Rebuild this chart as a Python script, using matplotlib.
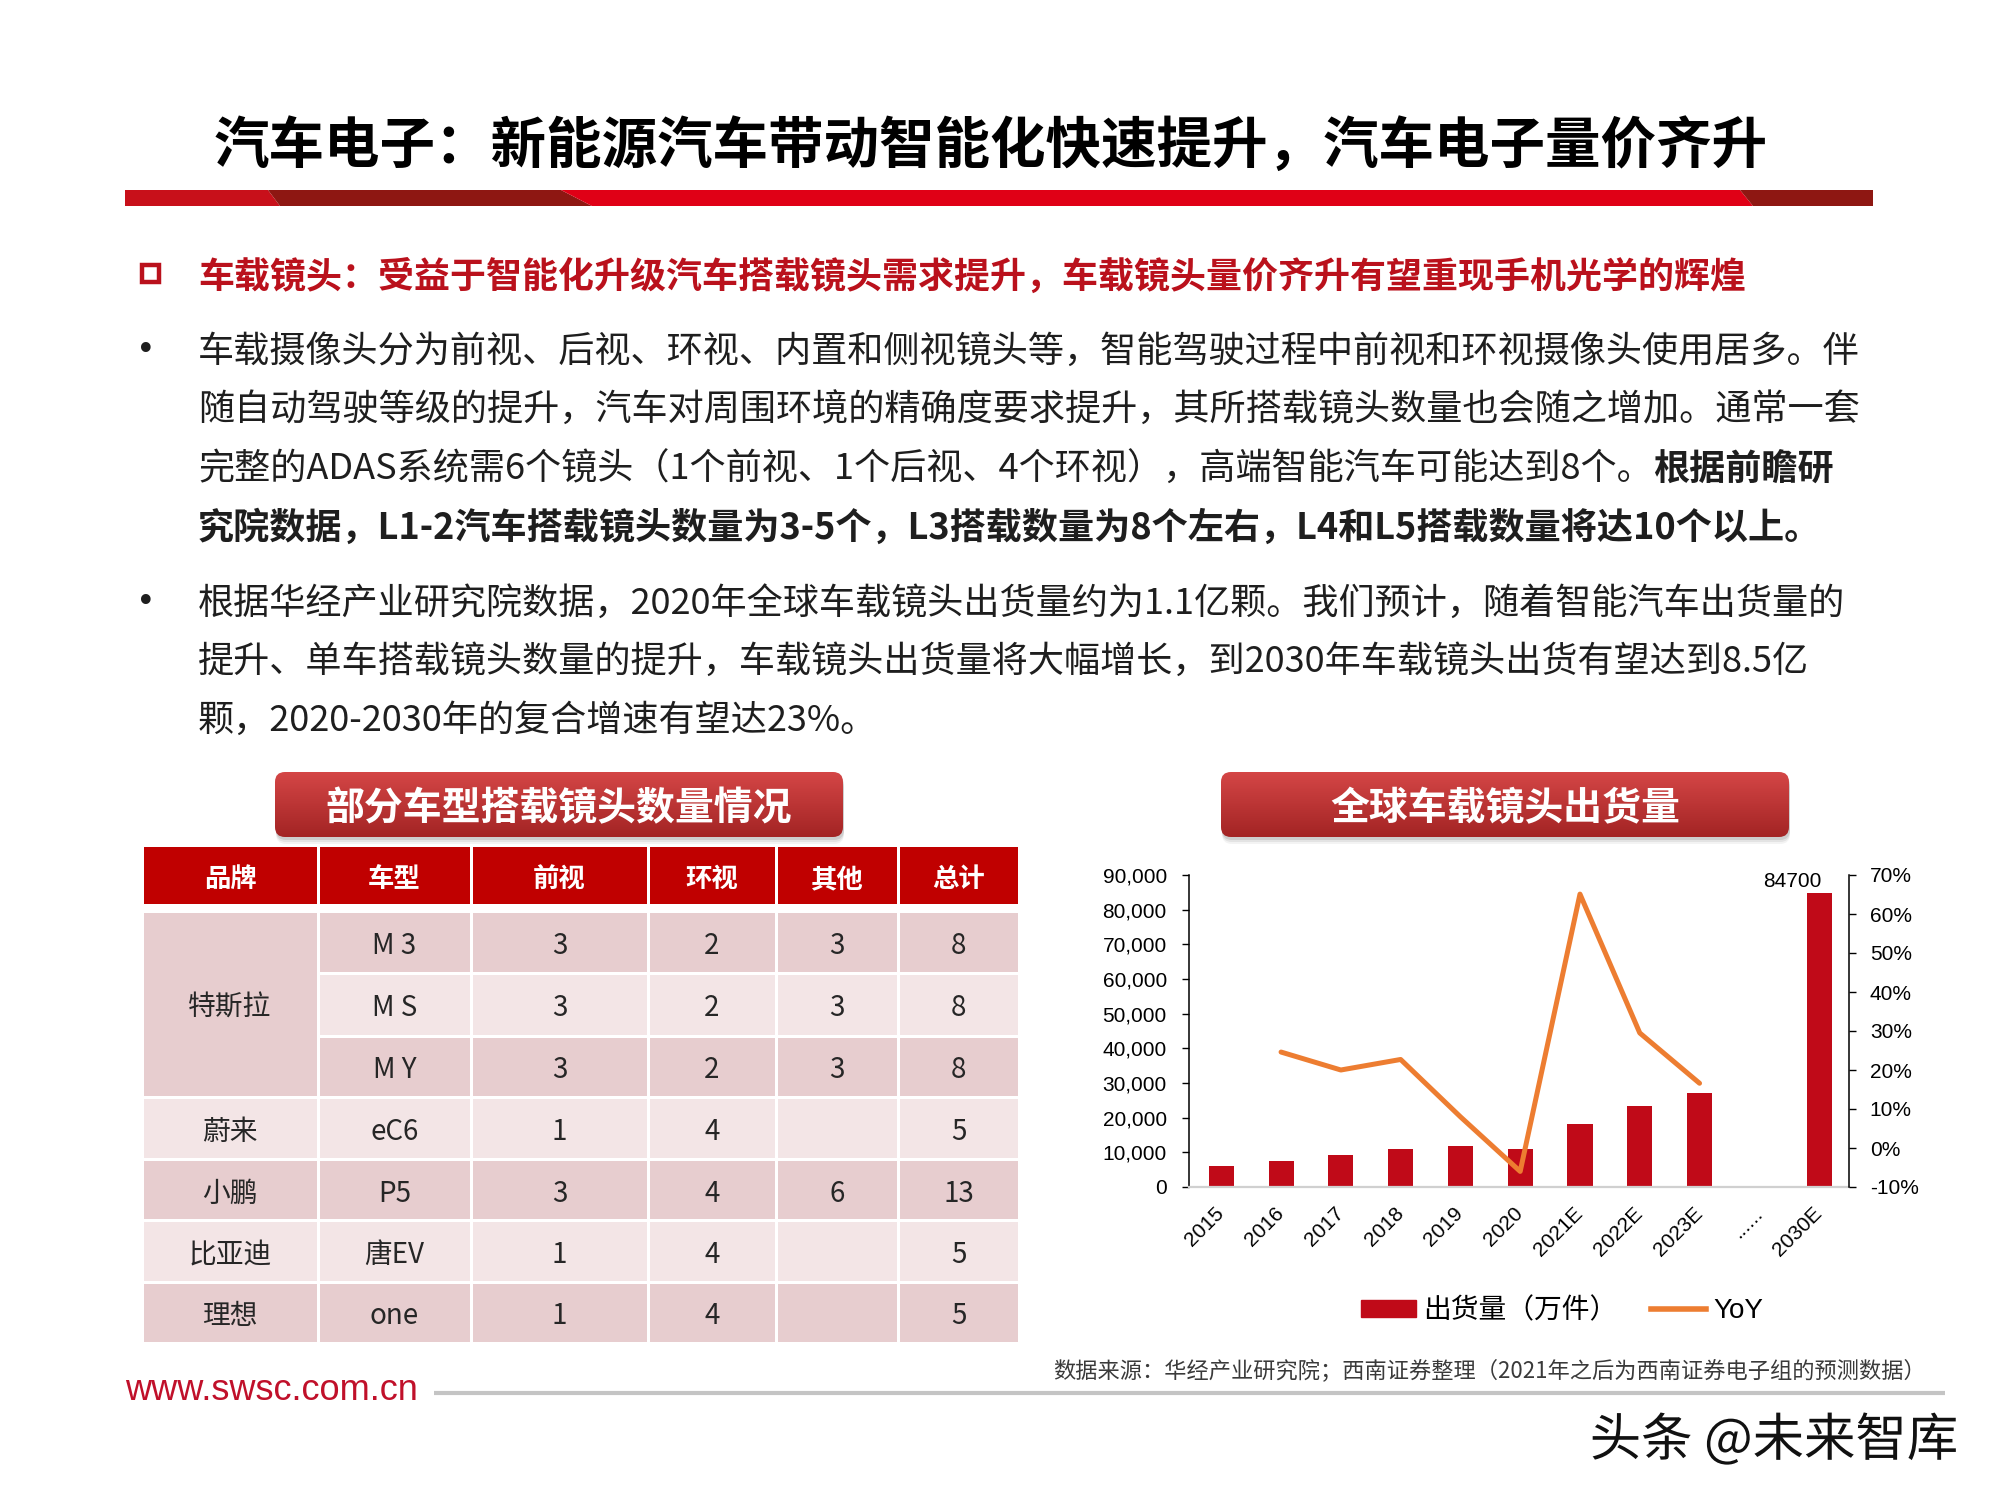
import numpy as np
import matplotlib
matplotlib.use("Agg")
import matplotlib.pyplot as plt
from matplotlib.patches import Rectangle, Polygon, FancyBboxPatch, Patch
from matplotlib.lines import Line2D
from matplotlib.colors import to_rgb
from matplotlib.ticker import FuncFormatter, MultipleLocator
from matplotlib import font_manager
import matplotlib.patheffects as pe

CJK = ["Noto Sans CJK SC", "DejaVu Sans"]
LAT = ["Liberation Sans", "Noto Sans CJK SC"]
plt.rcParams["font.family"] = CJK
plt.rcParams["axes.unicode_minus"] = False

# ---- chart data (万件, YoY) ----
years = ["2015", "2016", "2017", "2018", "2019", "2020", "2021E", "2022E", "2023E", "......", "2030E"]
shipments = [6200, 7400, 9300, 11000, 11700, 11000, 18200, 23500, 27100, None, 84700]
yoy_years = ["2016", "2017", "2018", "2019", "2020", "2021E", "2022E", "2023E"]
yoy = [0.246, 0.200, 0.227, 0.080, -0.060, 0.651, 0.295, 0.166]

# ---- table data ----
tbl_head = ["品牌", "车型", "前视", "环视", "其他", "总计"]
brands = ["特斯拉", "特斯拉", "特斯拉", "蔚来", "小鹏", "比亚迪", "理想"]
models = ["M 3", "M S", "M Y", "eC6", "P5", "唐EV", "one"]
front = [3, 3, 3, 1, 3, 1, 1]
surround = [2, 2, 2, 4, 4, 4, 4]
other = [3, 3, 3, None, 6, None, None]
total = [8, 8, 8, 5, 13, 5, 5]

title = "汽车电子：新能源汽车带动智能化快速提升，汽车电子量价齐升"
subtitle = "车载镜头：受益于智能化升级汽车搭载镜头需求提升，车载镜头量价齐升有望重现手机光学的辉煌"
para1 = [
    [("车载摄像头分为前视、后视、环视、内置和侧视镜头等，智能驾驶过程中前视和环视摄像头使用居多。伴", False)],
    [("随自动驾驶等级的提升，汽车对周围环境的精确度要求提升，其所搭载镜头数量也会随之增加。通常一套", False)],
    [("完整的ADAS系统需6个镜头（1个前视、1个后视、4个环视），高端智能汽车可能达到8个。", False), ("根据前瞻研", True)],
    [("究院数据，L1-2汽车搭载镜头数量为3-5个，L3搭载数量为8个左右，L4和L5搭载数量将达10个以上。", True)],
]
para2 = [
    [("根据华经产业研究院数据，2020年全球车载镜头出货量约为1.1亿颗。我们预计，随着智能汽车出货量的", False)],
    [("提升、单车搭载镜头数量的提升，车载镜头出货量将大幅增长，到2030年车载镜头出货有望达到8.5亿", False)],
    [("颗，2020-2030年的复合增速有望达23%。", False)],
]

RED = "#C00000"
SUBRED = "#BA111C"
TXT = "#1E1E1E"
PINK_D = "#E7CDCF"
PINK_L = "#F3E5E6"
BAR = "#C00A18"
LINE = "#ED7D31"
DY = 4  # CJK optical centring nudge (px)

fig = plt.figure(figsize=(20, 15), dpi=100)
fig.patch.set_facecolor("white")
bg = fig.add_axes([0, 0, 1, 1])
bg.set_xlim(0, 2000); bg.set_ylim(1500, 0)
bg.set_autoscale_on(False)
bg.axis("off")
renderer = fig.canvas.get_renderer()

# title + red band
bg.text(991, 143 + DY, title, fontsize=40, fontweight="heavy", color="black", ha="center", va="center")
band = [((125, 190), (268, 190), (280, 206), (125, 206), "#C8101A"),
        ((268, 190), (561, 190), (592, 206), (280, 206), "#8E1712"),
        ((561, 190), (1740, 190), (1753, 206), (592, 206), "#E00016"),
        ((1740, 190), (1873, 190), (1873, 206), (1753, 206), "#8E1712")]
for *pts, c in band:
    bg.add_patch(Polygon(pts, closed=True, fc=c, ec="none"))

# subtitle
bg.add_patch(Rectangle((142, 265), 17, 17, fill=False, ec=SUBRED, lw=3.2))
bg.text(198, 273 + DY, subtitle, fontsize=25.9, fontweight="bold", color=SUBRED, ha="left", va="center")


def put_line(x, y, segs, size=26):
    for s, bold in segs:
        t = bg.text(x, y + DY, s, fontsize=size, fontweight="bold" if bold else "normal",
                    color=TXT, ha="left", va="center")
        bb = t.get_window_extent(renderer)
        x = bg.transData.inverted().transform((bb.x1, bb.y0))[0]


for ys, para in [([348, 407, 466, 524], para1), ([600, 658, 717], para2)]:
    bg.text(136, ys[0] + 2, "•", fontsize=24, color=TXT, ha="left", va="center", family="DejaVu Sans")
    for y, segs in zip(ys, para):
        put_line(198, y, segs)


def header_box(x0, y0, x1, y1, label):
    for k, a in [(7, 0.08), (5, 0.12), (3, 0.18)]:
        bg.add_patch(FancyBboxPatch((x0 + 1, y0 + k), x1 - x0, y1 - y0,
                                    boxstyle="round,pad=0,rounding_size=10",
                                    fc="#707070", ec="none", alpha=a, zorder=1))
    box = FancyBboxPatch((x0, y0), x1 - x0, y1 - y0, boxstyle="round,pad=0,rounding_size=10",
                         fc="none", ec="none", zorder=2)
    bg.add_patch(box)
    g = np.linspace(0, 1, 80)[:, None, None]
    img = np.array(to_rgb("#D44646")) * (1 - g) + np.array(to_rgb("#A32424")) * g
    im = bg.imshow(img, extent=(x0, x1, y1, y0), origin="upper", aspect="auto", zorder=2)
    im.set_clip_path(box)
    bg.text((x0 + x1) / 2, (y0 + y1) / 2 + DY, label, color="white", fontsize=28,
            fontweight="bold", ha="center", va="center", zorder=3)


header_box(275, 772, 843, 837, "部分车型搭载镜头数量情况")
header_box(1221, 772, 1789, 837, "全球车载镜头出货量")

# table
col_x = [142, 318, 471, 648, 776, 898, 1019]
head_y = (847, 904)
row_y = [911, 973, 1036, 1097, 1159, 1220, 1282, 1343]
g = 1.5
for i, h in enumerate(tbl_head):
    bg.add_patch(Rectangle((col_x[i] + g, head_y[0]), col_x[i + 1] - col_x[i] - 2 * g,
                           head_y[1] - head_y[0], fc=RED, ec="none"))
    bg.text((col_x[i] + col_x[i + 1]) / 2, sum(head_y) / 2 + DY, h, color="white", fontsize=19,
            fontweight="bold", ha="center", va="center")

rows = list(zip(models, front, surround, other, total))
r = 0
while r < len(brands):
    r2 = r
    while r2 + 1 < len(brands) and brands[r2 + 1] == brands[r]:
        r2 += 1
    y0, y1 = row_y[r] + g, row_y[r2 + 1] - g
    bg.add_patch(Rectangle((col_x[0] + g, y0), col_x[1] - col_x[0] - 2 * g, y1 - y0,
                           fc=PINK_D if r % 2 == 0 else PINK_L, ec="none"))
    bg.text((col_x[0] + col_x[1]) / 2, (y0 + y1) / 2 + DY, brands[r], fontsize=20, color="#262626",
            ha="center", va="center")
    r = r2 + 1

for r, vals in enumerate(rows):
    y0, y1 = row_y[r] + g, row_y[r + 1] - g
    fc = PINK_D if r % 2 == 0 else PINK_L
    for c, v in enumerate(vals):
        xa, xb = col_x[c + 1], col_x[c + 2]
        bg.add_patch(Rectangle((xa + g, y0), xb - xa - 2 * g, y1 - y0, fc=fc, ec="none"))
        if v is not None:
            bg.text((xa + xb) / 2, (y0 + y1) / 2 + DY, str(v), fontsize=20, color="#262626",
                    ha="center", va="center")

# chart
ax = fig.add_axes([1189 / 2000, 1 - 1187 / 1500, 660 / 2000, (1187 - 875) / 1500])
ax.set_facecolor("none")
xs = np.arange(len(years))
bx = [x for x, v in zip(xs, shipments) if v is not None]
bv = [v for v in shipments if v is not None]
ax.bar(bx, bv, width=0.42, color=BAR, zorder=2)
ax.set_xlim(-0.54, 10.5)
ax.set_ylim(0, 90000)
ax.yaxis.set_major_locator(MultipleLocator(10000))
ax.yaxis.set_major_formatter(FuncFormatter(lambda v, p: f"{v:,.0f}"))
ax.set_xticks(xs)
ax.set_xticklabels(years, rotation=45, ha="right", va="center", rotation_mode="anchor",
                   family=LAT, fontsize=15)
for lab in ax.get_yticklabels():
    lab.set_family(LAT)
ax.tick_params(axis="y", direction="out", length=5, width=1, labelsize=15, pad=11)
ax.tick_params(axis="x", length=0, pad=17)
for s in ("top", "right"):
    ax.spines[s].set_visible(False)
ax.spines["left"].set_linewidth(1.1)
ax.spines["bottom"].set_color("#D0D0D0")
ax.spines["bottom"].set_linewidth(1.6)
ax.text(9.55, 84700 + 600, f"{shipments[-1]}", ha="center", va="bottom", fontsize=15, family=LAT)

ax2 = ax.twinx()
ax2.set_facecolor("none")
lx = [years.index(y) for y in yoy_years]
ax2.plot(lx, yoy, color=LINE, lw=3.6, solid_joinstyle="round", solid_capstyle="round", zorder=3)
ax2.set_ylim(-0.1, 0.7)
ax2.yaxis.set_major_locator(MultipleLocator(0.1))
ax2.yaxis.set_major_formatter(FuncFormatter(lambda v, p: f"{v:.0%}"))
for lab in ax2.get_yticklabels():
    lab.set_family(LAT)
ax2.tick_params(axis="y", direction="out", length=5, width=1, labelsize=15, pad=10)
for s in ("top", "left", "bottom"):
    ax2.spines[s].set_visible(False)
ax2.spines["right"].set_linewidth(1.1)

handles = [Patch(color=BAR), Line2D([], [], color=LINE, lw=4)]
ax.legend(handles, ["出货量（万件）", "YoY"], loc="center", ncol=2, frameon=False,
          bbox_to_anchor=(1562 / 2000, 1 - 1311 / 1500), bbox_transform=fig.transFigure,
          prop=font_manager.FontProperties(family=LAT, size=20),
          handlelength=2.0, handleheight=0.55, handletextpad=0.25, columnspacing=1.2)

# source + footer
bg.text(1926, 1369 + 2, "数据来源：华经产业研究院；西南证券整理（2021年之后为西南证券电子组的预测数据）",
        fontsize=16, color="#3A3A3A", ha="right", va="center")
bg.text(125, 1391, "www.swsc.com.cn", fontsize=26, color="#C0102A", ha="left", va="center",
        family=LAT)
bg.plot([434, 1945], [1393, 1393], color="#C4C4C4", lw=3, solid_capstyle="butt")
bg.text(1958, 1437 + DY, "头条 @未来智库", fontsize=37, color="#111111", ha="right", va="center",
        path_effects=[pe.withStroke(linewidth=3, foreground="white")])

bg.set_xlim(0, 2000); bg.set_ylim(1500, 0)
fig.savefig("out.png", dpi=100)
